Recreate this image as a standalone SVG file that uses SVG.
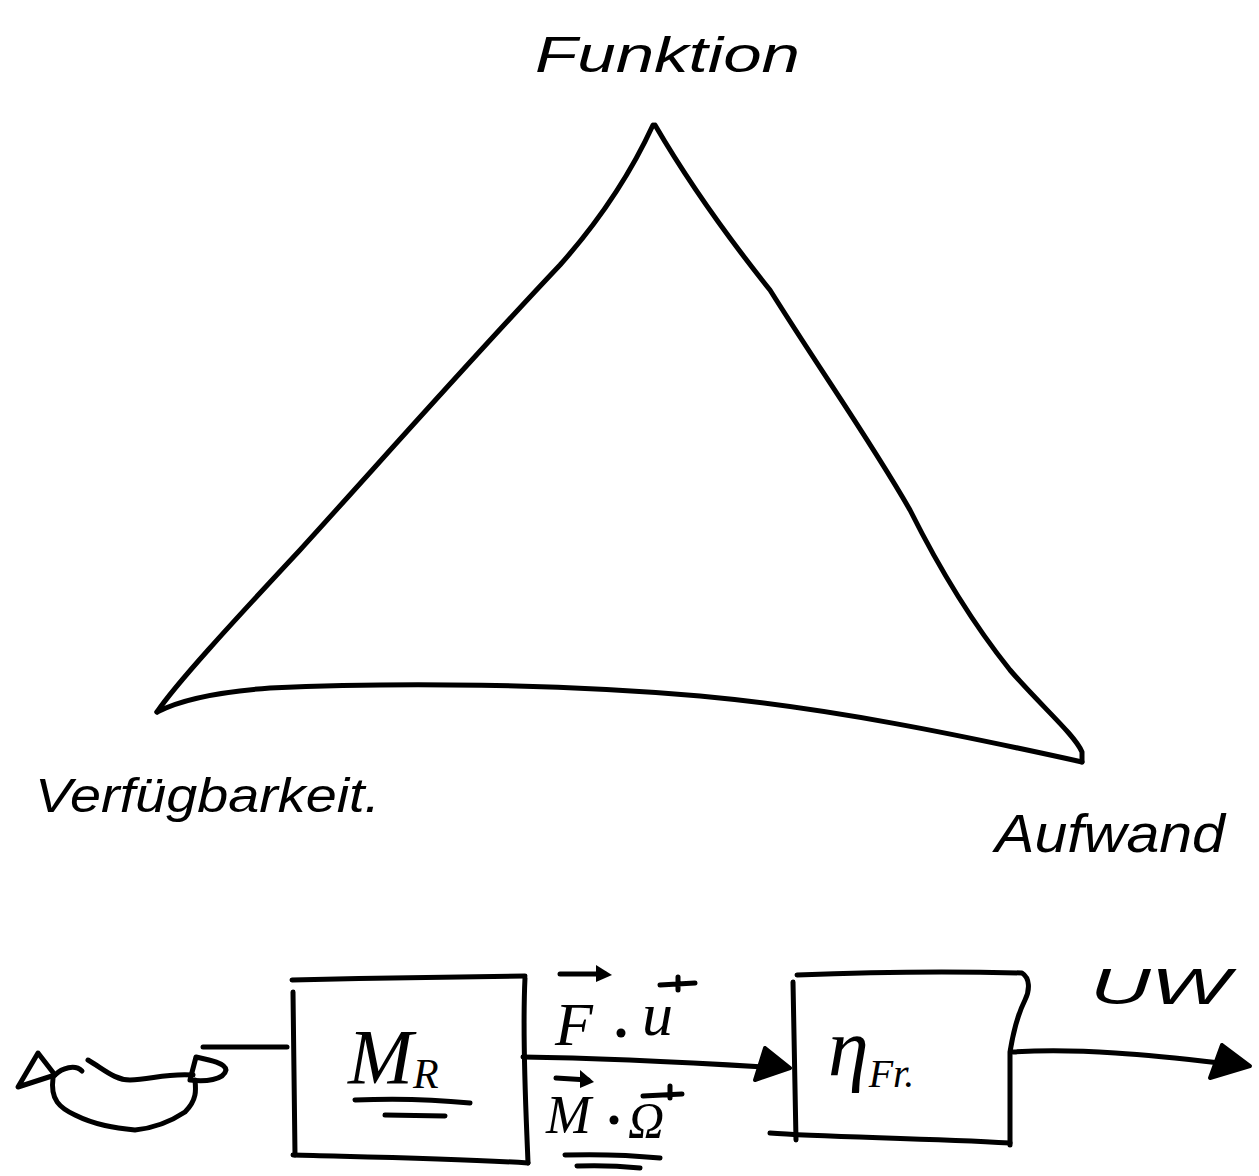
<svg xmlns="http://www.w3.org/2000/svg" width="1259" height="1176" viewBox="0 0 1259 1176">
  <style>
    .ink { fill: none; stroke: #000; stroke-width: 5; stroke-linecap: round; stroke-linejoin: round; }
    .head { fill: #000; stroke: #000; stroke-width: 4; stroke-linejoin: round; }
    .hand { font-family: "Liberation Sans", "DejaVu Sans", sans-serif; font-style: italic; fill: #000; }
    .math { font-family: "Liberation Serif", "DejaVu Serif", serif; font-style: italic; fill: #000; }
  </style>
  <rect width="1259" height="1176" fill="#fff"/>

  <g id="triangle">
    <path class="ink" d="M157,712 C175,685 230,625 300,550 C380,462 470,360 560,265 C600,220 630,175 653,125"/>
    <path class="ink" d="M655,125 C690,185 730,240 770,290 C820,370 870,440 910,510 C940,570 970,620 1010,670 C1040,705 1075,735 1082,752 L1082,762"/>
    <path class="ink" d="M157,712 C180,700 215,692 270,688 C400,682 560,684 700,696 C830,708 960,735 1082,762"/>
  </g>

  <g id="label-funktion">
    <text class="hand" x="535" y="72" font-size="50" textLength="265" lengthAdjust="spacingAndGlyphs">Funktion</text>
  </g>
  <g id="label-verfuegbarkeit">
    <text class="hand" x="35" y="812" font-size="48" textLength="345" lengthAdjust="spacingAndGlyphs">Verfügbarkeit.</text>
  </g>
  <g id="label-aufwand">
    <text class="hand" x="995" y="852" font-size="54" textLength="230" lengthAdjust="spacingAndGlyphs">Aufwand</text>
  </g>

  <g id="source">
    <path class="ink" d="M18,1087 L38,1053 L55,1075 Z"/>
    <path class="ink" d="M55,1075 C62,1068 75,1064 82,1071"/>
    <path class="ink" d="M88,1060 C105,1070 115,1080 130,1080 C150,1080 165,1073 193,1075"/>
    <path class="ink" d="M53,1078 C50,1100 60,1108 75,1115 C95,1125 115,1128 135,1130 C155,1128 170,1122 185,1112 C197,1100 196,1090 195,1080"/>
    <path class="ink" d="M190,1080 L196,1057 C210,1060 225,1063 226,1070 C224,1080 205,1082 190,1080"/>
  </g>

  <g id="block-mr">
    <path class="ink" d="M292,980 C370,978 450,977 525,976"/>
    <path class="ink" d="M293,992 L295,1155"/>
    <path class="ink" d="M525,978 C522,1040 526,1110 528,1163"/>
    <path class="ink" d="M293,1155 C370,1157 450,1158 528,1163"/>
    <text class="math" x="348" y="1083" font-size="78">M<tspan font-size="42" dy="5">R</tspan></text>
    <path class="ink" d="M355,1100 C400,1098 440,1100 470,1103"/>
    <path class="ink" d="M385,1115 L445,1116"/>
  </g>

  <g id="block-eta">
    <path class="ink" d="M797,975 C870,972 950,971 1022,973 C1030,978 1030,990 1025,1000 C1015,1020 1012,1040 1010,1052 L1010,1145"/>
    <path class="ink" d="M793,982 L796,1140"/>
    <path class="ink" d="M770,1133 C820,1137 920,1138 1010,1143"/>
    <text class="math" x="828" y="1075" font-size="82">η<tspan font-size="40" dy="12">Fr.</tspan></text>
  </g>

  <g id="connectors">
    <path class="ink" d="M203,1047 L287,1047"/>
    <path class="ink" d="M523,1057 C600,1058 680,1062 765,1067"/>
    <path class="head" d="M755,1080 L765,1048 L790,1068 Z"/>
    <path class="ink" d="M1013,1052 C1080,1048 1150,1055 1220,1063"/>
    <path class="head" d="M1210,1078 L1222,1045 L1250,1066 Z"/>
  </g>

  <g id="label-power">
    <path class="ink" d="M560,974 L605,974"/>
    <path d="M596,965 L612,975 L596,982 Z" fill="#000"/>
    <text class="math" x="555" y="1045" font-size="62">F</text>
    <circle cx="621" cy="1033" r="4.5" fill="#000"/>
    <path class="ink" d="M660,985 L695,983 M678,977 L678,990"/>
    <text class="math" x="642" y="1035" font-size="62">u</text>
    <path class="ink" d="M556,1078 L588,1080"/>
    <path d="M580,1070 L594,1082 L580,1088 Z" fill="#000"/>
    <text class="math" x="546" y="1133" font-size="54">M</text>
    <circle cx="614" cy="1120" r="4.5" fill="#000"/>
    <path class="ink" d="M643,1096 L682,1094 M670,1086 L670,1098"/>
    <text class="math" x="628" y="1137" font-size="50">Ω</text>
    <path class="ink" d="M565,1155 C600,1154 630,1155 660,1158"/>
    <path class="ink" d="M577,1166 C600,1165 620,1166 640,1168"/>
  </g>

  <g id="label-uw">
    <text class="hand" x="1090" y="1004" font-size="50" textLength="140" lengthAdjust="spacingAndGlyphs">UW</text>
  </g>
</svg>
